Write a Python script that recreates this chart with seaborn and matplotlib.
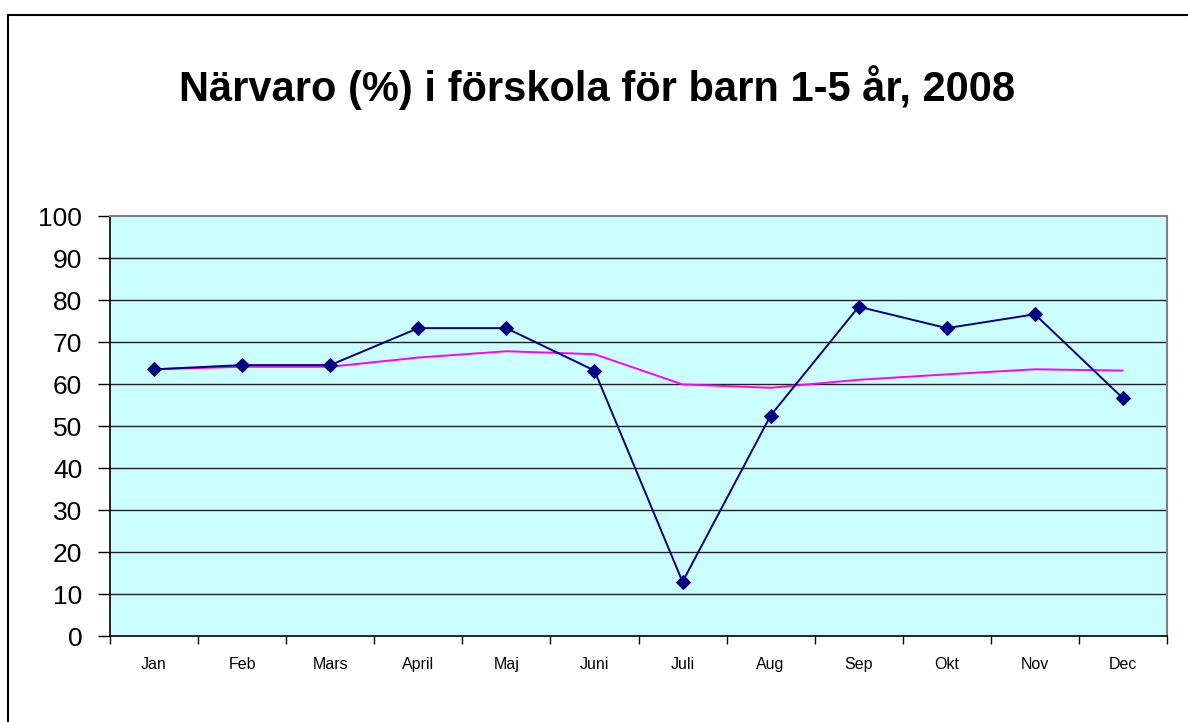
import pandas as pd
import matplotlib.pyplot as plt
import seaborn as sns
from matplotlib.lines import Line2D

months = ["Jan", "Feb", "Mars", "April", "Maj", "Juni",
          "Juli", "Aug", "Sep", "Okt", "Nov", "Dec"]
narvaro_2008 = [63.5, 64.5, 64.5, 73.3, 73.3, 63.2,
                12.9, 52.5, 78.4, 73.3, 76.6, 56.6]
medel = [63.5, 64.1, 64.1, 66.3, 67.8, 67.1,
         59.9, 59.1, 61.0, 62.3, 63.5, 63.2]
y_ticks = [0, 10, 20, 30, 40, 50, 60, 70, 80, 90, 100]


def make_df():
    df = pd.DataFrame({"MANAD": months, "NARVARO": narvaro_2008, "MEDEL": medel})
    df["POS"] = range(len(months))
    return df


def show_chart(df):
    sns.set_style("white")
    plt.rcParams["font.family"] = ["Liberation Sans", "DejaVu Sans"]
    plt.rcParams["text.color"] = "black"
    plt.rcParams["xtick.color"] = "black"
    plt.rcParams["ytick.color"] = "black"

    fig = plt.figure(figsize=(11.88, 7.22), dpi=100)
    ax = fig.add_axes([110 / 1188, 1 - 636 / 722, 1057 / 1188, 420 / 722])
    ax.set_facecolor("#CCFFFF")

    # grid lines first, under the data
    for v in y_ticks[1:-1]:
        ax.axhline(v, color="#222222", lw=1, zorder=1)

    sns.lineplot(data=df, x="POS", y="MEDEL", ax=ax, color="#FF00FF",
                 lw=1.4, zorder=3)
    sns.lineplot(data=df, x="POS", y="NARVARO", ax=ax, color="#000080",
                 lw=1.4, marker="D", markersize=7, markeredgecolor="#000080",
                 zorder=4)

    ax.set_xlim(-0.5, len(months) - 0.5)
    ax.set_ylim(0, 100)
    ax.set_yticks(y_ticks)
    ax.set_yticklabels([str(v) for v in y_ticks], fontsize=19)
    ax.set_xticks(range(len(months)))
    ax.set_xticklabels(months, fontsize=11.5)
    ax.tick_params(axis="x", length=0, pad=15)
    ax.tick_params(axis="y", length=9, width=1, direction="out", pad=11, left=True)
    # category boundary ticks
    ax.set_xticks([i - 0.5 for i in range(len(months) + 1)], minor=True)
    ax.tick_params(axis="x", which="minor", length=6, width=1, direction="out", bottom=True)
    ax.set_xlabel("")
    ax.set_ylabel("")

    for side in ["top", "right"]:
        ax.spines[side].set_color("#808080")
        ax.spines[side].set_linewidth(1.5)
    for side in ["left", "bottom"]:
        ax.spines[side].set_color("black")
        ax.spines[side].set_linewidth(1.2)

    fig.text(597 / 1188, 1 - 88 / 722, "Närvaro (%) i förskola för barn 1-5 år, 2008",
             ha="center", va="center", fontsize=30, fontweight="bold", color="black")

    # outer chart border (left and top only visible)
    fig.add_artist(Line2D([8 / 1188, 8 / 1188], [0, 1 - 15 / 722], color="black", lw=1.5,
                          transform=fig.transFigure))
    fig.add_artist(Line2D([8 / 1188, 1], [1 - 15 / 722, 1 - 15 / 722], color="black", lw=1.5,
                          transform=fig.transFigure))

    plt.savefig("out.png", dpi=100)


def main():
    df = make_df()
    show_chart(df)


if __name__ == "__main__":
    main()
